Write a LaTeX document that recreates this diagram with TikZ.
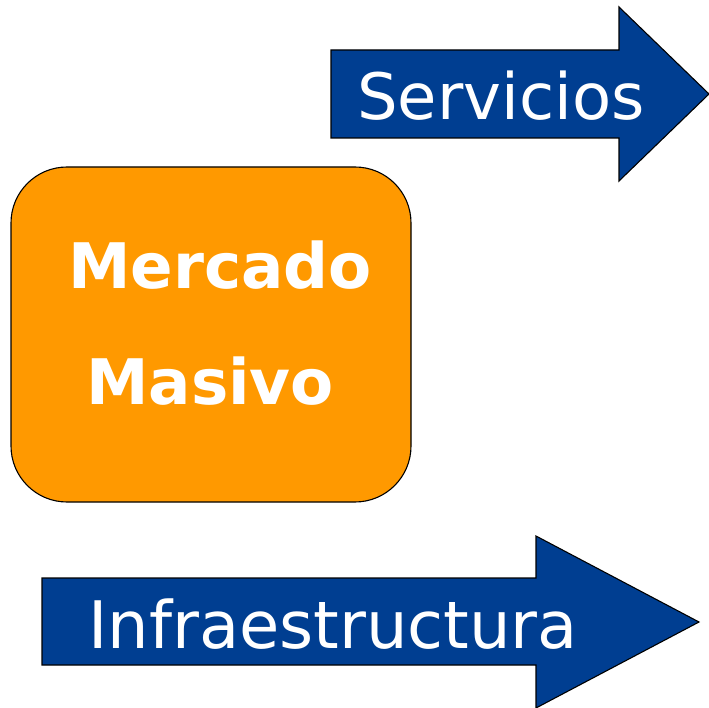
\documentclass[tikz,border=0pt]{standalone}
\usepackage{fontspec}
\setmainfont{DejaVu Sans}
\definecolor{arrowblue}{RGB}{0,62,145}
\definecolor{boxorange}{RGB}{255,153,0}
\tikzset{
  arrowshape/.style={fill=arrowblue, draw=black, line width=1.1pt, line join=miter},
  boxshape/.style={fill=boxorange, draw=black, line width=1.1pt, rounded corners=56pt},
  arrowtext/.style={text=white, font=\fontsize{64}{70}\selectfont, inner sep=0pt, anchor=base west},
  boxtext/.style={text=white, font=\bfseries\fontsize{62.8}{70}\selectfont, inner sep=0pt, anchor=base west}
}
\begin{document}
\begin{tikzpicture}[x=1pt,y=-1pt]
\useasboundingbox (0,0) rectangle (709,708);
% top arrow
\draw[arrowshape] (331,50) -- (619,50) -- (619,7) -- (709,94) -- (619,181) -- (619,138) -- (331,138) -- cycle;
% box
\draw[boxshape] (11,167) rectangle (411,502);
% bottom arrow
\draw[arrowshape] (42,578) -- (536,578) -- (536,536) -- (699,622) -- (536,708) -- (536,665) -- (42,665) -- cycle;
\node[arrowtext] (serv) at (357,120) {Servicios};
\node[arrowtext, font=\fontsize{65.5}{70}\selectfont] (infra) at (88,648) {Infraestructura};
\node[boxtext] (merc) at (68,289) {Mercado};
\node[boxtext] (masi) at (86,404) {Masivo};
\end{tikzpicture}
\end{document}
